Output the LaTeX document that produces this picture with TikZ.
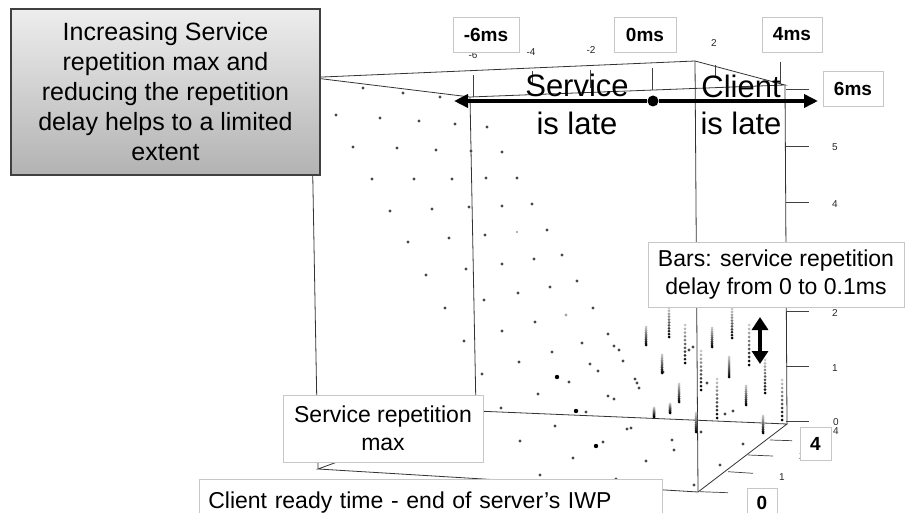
\documentclass[tikz,border=0pt]{standalone}
\usepackage{fontspec}
\setmainfont{Liberation Sans}
\usetikzlibrary{arrows.meta}
\newcommand\mybar[3]{%
  \foreach \k in {0,...,10}{%
    \pgfmathsetmacro\yy{#2+\k*(#3-#2)/10}%
    \pgfmathtruncatemacro\pct{22+78*\k/10}%
    \fill[black!\pct] (#1,\yy) circle (1.5pt);
  }}
\begin{document}
\begin{tikzpicture}[x=1pt,y=-1pt,
  edge/.style={draw=black!80, line width=0.8pt},
  tickln/.style={draw=black!75, line width=0.7pt},
  ticklab/.style={font=\fontsize{10}{12}\selectfont, text=black!85, inner sep=0pt},
  lab/.style={draw=black!22, fill=white, line width=0.7pt, font=\fontsize{19}{22}\selectfont\bfseries, inner sep=0pt},
  note/.style={draw=black!22, fill=white, line width=0.7pt, font=\fontsize{23}{28}\selectfont, align=center, inner sep=0pt},
  big/.style={font=\fontsize{31}{37}\selectfont, inner sep=0pt, anchor=base},
  dotc/.style={fill=black!72},
  bigarrow/.style={line width=4.5pt, -{Triangle[length=14pt,width=13pt]}},
]
\useasboundingbox (0,0) rectangle (915,513);
% box vertices
\coordinate (A) at (311,77.5);
\coordinate (B) at (695,61);
\coordinate (C) at (785,85);
\coordinate (D) at (470,97);
\coordinate (A2) at (318,469);
\coordinate (B2) at (698,492);
\coordinate (C2) at (787,424);
\coordinate (D2) at (476,411);
\draw[edge] (A) -- (B) -- (C) -- (D) -- cycle;
\draw[edge] (A2) -- (B2) -- (C2) -- (D2) -- cycle;
\draw[edge] (A) -- (A2) (B) -- (B2) (C) -- (C2) (D) -- (D2);
% top ticks
\foreach \x/\ya/\yb in {473/75/97, 532/71/84, 590/70/88, 652/68/90, 715/65/78, 780/62/84}
  \draw[tickln] (\x,\ya) -- (\x,\yb);
\node[ticklab] (tm6) at (473,55) {-6};
\node[ticklab] (tm4) at (531,52) {-4};
\node[ticklab] (tm2) at (591,50) {-2};
\node[ticklab] (tp2) at (714,43) {2};
% right ticks
\foreach \yy in {89,146,202,258,311,366,421}
  \draw[tickln] (786,\yy) -- (809,\yy);
\node[ticklab] (r5) at (835,147) {5};
\node[ticklab] (r4) at (835,204) {4};
\node[ticklab] (r2) at (835,313) {2};
\node[ticklab] (r1) at (835,368) {1};
\node[ticklab] (r0) at (836,422) {0};
\node[ticklab] (r4b) at (836,431) {4};
% depth ticks
\foreach \xa/\ya/\xb/\yb in {700/491.7/728/492.7, 728/471.7/753/473.3, 748/455/773/456, 770/440/792/440.7}
  \draw[tickln] (\xa,\ya) -- (\xb,\yb);
\node[ticklab] (d1) at (782,477) {1};
\node[ticklab] (d2) at (802,456) {2};
% data dots
\foreach \x/\y in {363/88,403/93,440/97,336/115,380/118,419/121,455/124,487/127,353/147,397/148,436/150,471/151,502/152,372/179,414/179,452/179,486/178,517/178,390/211,432/209,469/207,502/206,532/204,408/242,449/238,485/235,547/230,426/275,466/269,502/264,534/259,562/255,445/308,484/300,518/293,550/287,577/281,464/341,502/331,535/322,593/308,482/374,519/362,552/352,582/343,608/334,569/382,590/364,598/371,614/346,619/350,623/361,635/379,637/383,639/388,501/408,538/394,586/412,608/396,614/399,520/441,555/426,573/458,540/475,603/442,627/429,631/428,646/461,616/479,672/440,674/450,694/485,701/432,720/465,743/444,663/372,689/350,693/347,707/383,725/414,733/411}
  \fill[dotc] (\x,\y) circle (1.6pt);
\fill[black!35] (566,315) circle (1.6pt);
\fill[black!60] (517,232) circle (0.9pt);
\foreach \x/\y in {557/377,576/411,596/446}
  \fill[black] (\x,\y) circle (2.2pt);
% bars
\foreach \x/\ya/\yb in {646/327/345, 669/308/337, 685/325/363, 662/355/373, 679/384/402, 654/408/417, 670/404/413, 701/351/390, 712/328/347, 717/379/418, 729/357/377, 732/309/338, 746/386/405, 749/325/365, 763/416/433, 765/360/393, 782/380/420, 696/413/432}
  {\mybar{\x}{\ya}{\yb}}
% axis value labels
\node[lab, minimum width=66pt, minimum height=35pt] (l6n) at (486,34.5) {-6ms};
\node[lab, minimum width=62pt, minimum height=35pt] (l0) at (645,34.5) {0ms};
\node[lab, minimum width=60pt, minimum height=35pt] (l4) at (792,34.5) {4ms};
\node[lab, minimum width=60pt, minimum height=35pt] (l6) at (853,88.5) {6ms};
\node[lab, minimum width=31pt, minimum height=33pt] (s4) at (815.5,443.5) {4};
\node[lab, minimum width=30pt, minimum height=30pt] (s0) at (762,503) {0};
% notes
\node[note, minimum width=256pt, minimum height=65pt] (bars) at (776,274.5) {Bars: service repetition\\delay from 0 to 0.1ms};
\node[note, minimum width=200pt, minimum height=67pt] (srm) at (383,428.5) {Service repetition\\max};
\node[note, anchor=north west, minimum width=463pt, minimum height=46pt, inner xsep=9pt, align=left, text width=445pt] (crt) at (199,479) {Client ready time - end of server’s IWP};
% grey callout
\node[draw=black!75, line width=1.3pt, top color=black!7, bottom color=black!30, minimum width=309pt, minimum height=166pt, inner sep=0pt, align=center, font=\fontsize{25}{30}\selectfont] (grey) at (165.5,92) {Increasing Service\\repetition max and\\reducing the repetition\\delay helps to a limited\\extent};
% late arrows
\node[big] (sv1) at (577,97) {Service};
\node[big] (sv2) at (577,135) {is late};
\node[big] (cl1) at (741,98) {Client};
\node[big] (cl2) at (741,135) {is late};
\node[circle, fill=black, inner sep=0pt, minimum size=11pt] (c0) at (653,101) {};
\coordinate (lt) at (454,101);
\coordinate (rt) at (818,101);
\draw[bigarrow] (c0) -- (lt);
\draw[bigarrow] (c0) -- (rt);
% double arrow
\coordinate (va) at (760,317);
\coordinate (vb) at (760,364);
\draw[line width=4pt, {Triangle[length=13pt,width=16pt]}-{Triangle[length=13pt,width=16pt]}] (va) -- (vb);
\end{tikzpicture}
\end{document}
